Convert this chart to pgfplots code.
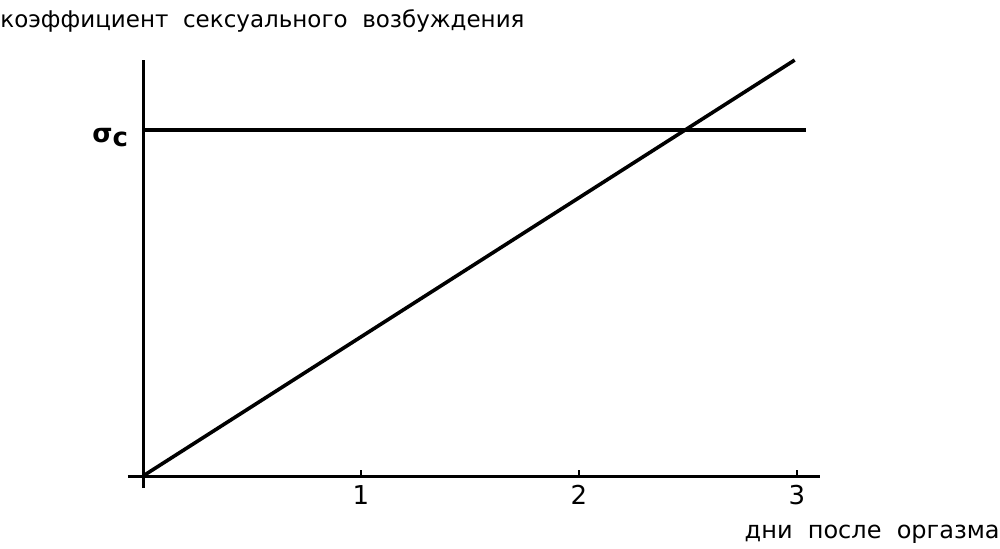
\documentclass[border=0pt]{standalone}
\usepackage{pgfplots}
\pgfplotsset{compat=1.18}
\usepackage{fontspec}
\setmainfont{DejaVu Sans}
\begin{document}
\begin{tikzpicture}
\useasboundingbox (0,0) rectangle (500pt,274pt);
\begin{axis}[
  at={(71.5pt,36pt)}, anchor=origin,
  scale only axis, width=346pt, height=214pt,
  axis lines=middle,
  axis line style={line width=1.5pt,-},
  xmin=-0.069, xmax=3.106, ymin=-0.029, ymax=1.0,
  xtick={1,2,3}, ytick={0.832}, yticklabels={\textbf{σ}\raisebox{-0.3ex}{\textbf{c}}},
  x tick label style={font=\fontsize{13}{15}\selectfont, yshift=-1pt},
  y tick label style={font=\fontsize{13}{15}\selectfont, xshift=-4pt, yshift=-4pt},
  /pgf/number format/assume math mode=true,
  major tick length=0pt, tick style={draw=none},
  clip=false,
]
\addplot[ycomb, black, line width=0.8pt, mark=none] coordinates {(1,0.014) (2,0.014) (3,0.014)};
\addplot[black, line width=1.8pt] coordinates {(0,0) (2.99,1.0)};
\addplot[black, line width=1.8pt] coordinates {(0,0.832) (3.04,0.832)};
\end{axis}
\node[anchor=base west, inner sep=0pt, font=\fontsize{11.5}{14}\selectfont] at (0,260.5pt) {коэффициент\ \ сексуального\ \ возбуждения};
\node[anchor=base east, inner sep=0pt, font=\fontsize{12}{14}\selectfont] at (500pt,5pt) {дни\ \ после\ \ оргазма};
\end{tikzpicture}
\end{document}
